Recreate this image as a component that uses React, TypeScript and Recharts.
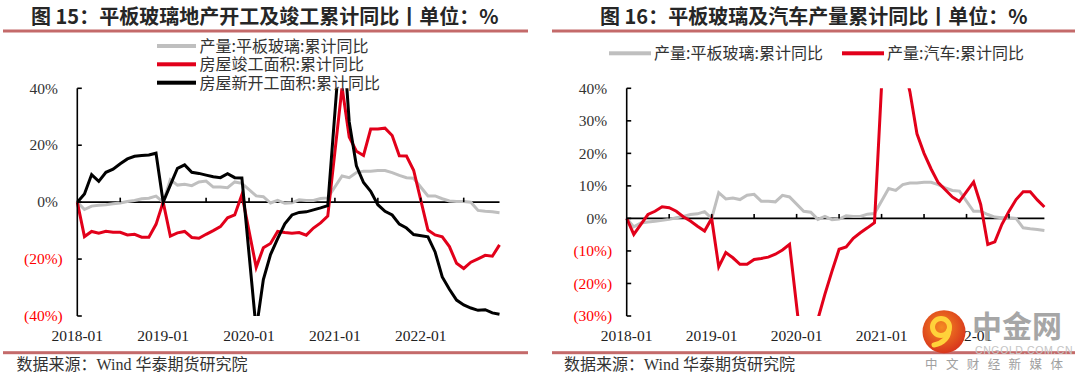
import React from 'react';
import { LineChart, Line, XAxis, YAxis, ReferenceLine, ReferenceDot } from 'recharts';

const months = [
  '2018-01','2018-02','2018-03','2018-04','2018-05','2018-06','2018-07','2018-08','2018-09','2018-10','2018-11','2018-12',
  '2019-01','2019-02','2019-03','2019-04','2019-05','2019-06','2019-07','2019-08','2019-09','2019-10','2019-11','2019-12',
  '2020-01','2020-02','2020-03','2020-04','2020-05','2020-06','2020-07','2020-08','2020-09','2020-10','2020-11','2020-12',
  '2021-01','2021-02','2021-03','2021-04','2021-05','2021-06','2021-07','2021-08','2021-09','2021-10','2021-11','2021-12',
  '2022-01','2022-02','2022-03','2022-04','2022-05','2022-06','2022-07','2022-08','2022-09','2022-10','2022-11','2022-12',
];

// 产量:平板玻璃:累计同比 (%)
const glassYoY: (number | null)[] = [
  0, -2.6, -1.4, -1.1, -0.9, -0.6, -0.3, 0.2, 0.6, 1.2, 1.4, 2.1,
  0, 7.9, 6.0, 6.3, 5.8, 7.1, 7.4, 5.3, 5.3, 5.1, 7.1, 6.6,
  null, 2.2, 1.9, -0.3, 0.6, -0.4, -0.2, 0.8, 0.6, 0.6, 1.3, 1.5,
  null, 9.2, 8.6, 10.4, 10.9, 10.9, 11.1, 11.1, 10.4, 9.4, 8.6, 8.4,
  null, 2.2, 2.2, 1.2, 0.4, 0.2, 0.2, 0.0, -2.9, -3.2, -3.4, -3.7,
];

// 房屋竣工面积:累计同比 (%)
const completionYoY: (number | null)[] = [
  0, -12.1, -10.3, -10.9, -10.2, -10.6, -10.6, -11.5, -11.3, -12.3, -12.3, -7.8,
  0, -11.9, -10.8, -10.3, -12.4, -12.7, -11.3, -10.0, -8.6, -5.5, -4.5, 2.6,
  null, -22.9, -16.0, -14.5, -10.3, -10.7, -10.9, -10.7, -11.6, -9.1, -7.3, -4.9,
  null, 40.4, 22.9, 17.9, 16.4, 25.7, 25.7, 26.0, 23.4, 16.3, 16.2, 11.2,
  null, -9.8, -11.5, -12.2, -15.6, -21.5, -23.3, -21.1, -19.9, -18.7, -19.0, -15.0,
];

// 房屋新开工面积:累计同比 (%)
const newStartYoY: (number | null)[] = [
  0, 2.9, 9.7, 7.3, 10.5, 11.6, 13.5, 15.2, 16.1, 16.4, 16.6, 17.2,
  0, 6.0, 11.9, 13.1, 10.5, 10.1, 9.5, 8.9, 8.6, 10.0, 8.6, 8.5,
  null, -44.9, -27.2, -18.4, -12.8, -7.6, -4.5, -3.6, -3.4, -2.7, -2.0, -1.2,
  null, 64.3, 28.2, 12.8, 6.9, 3.8, -0.9, -3.2, -4.5, -7.7, -9.1, -11.4,
  null, -12.2, -17.5, -26.3, -30.6, -34.4, -36.1, -37.2, -38.0, -37.8, -38.9, -39.4,
];

// 产量:汽车:累计同比 (%)
const autoYoY: (number | null)[] = [
  0, -4.9, -1.8, 1.2, 2.2, 3.6, 3.3, 2.2, 0.5, -0.8, -2.4, -3.9,
  0, -14.9, -10.5, -12.1, -14.1, -14.1, -12.6, -12.3, -11.9, -11.0, -9.7, -8.0,
  null, -45.8, -45.0, -31.0, -23.3, -16.2, -9.5, -8.8, -6.1, -4.4, -2.9, -1.3,
  null, 83.0, 65.0, 48.0, 39.0, 26.0, 20.0, 15.2, 11.0, 8.8, 6.6, 5.2,
  null, 11.2, 4.3, -8.0, -7.2, -1.8, 2.2, 5.8, 8.2, 8.2, 5.7, 3.5,
];

const halfYearMarks = ['2018-07','2019-01','2019-07','2020-01','2020-07','2021-01','2021-07','2022-01','2022-07'];
const leftYTicks = [40, 20, 0, -20, -40];
const rightYTicks = [40, 30, 20, 10, 0, -10, -20, -30];

const leftTitle = '图 15：平板玻璃地产开工及竣工累计同比丨单位：%';
const rightTitle = '图 16：平板玻璃及汽车产量累计同比丨单位：%';
const sourceText = '数据来源：Wind 华泰期货研究院';
const nameGlass = '产量:平板玻璃:累计同比';
const nameCompletion = '房屋竣工面积:累计同比';
const nameNewStart = '房屋新开工面积:累计同比';
const nameAuto = '产量:汽车:累计同比';

const leftData = months.map((m, i) => ({
  month: m,
  glass: glassYoY[i],
  completion: completionYoY[i],
  newStart: newStartYoY[i],
}));
const rightData = months.map((m, i) => ({ month: m, glass: glassYoY[i], auto: autoYoY[i] }));

const SERIF = "'Liberation Serif', 'Times New Roman', 'Noto Sans CJK SC', serif";
const CJK = "'Noto Sans CJK SC', sans-serif";
const GRAY = '#BFBFBF';
const RED = '#E2001A';
const BLACK = '#000000';
const RULE = '#C46A6A';

function YTick(props: any) {
  const { x, y, payload } = props;
  const v = payload.value as number;
  const neg = v < 0;
  return (
    <g>
      <line x1={x} y1={y} x2={x + 4.5} y2={y} stroke="#000" strokeWidth={1.6} />
      <text
        x={neg ? x - 14.5 : x - 19.5}
        y={y}
        dy={5.2}
        textAnchor="end"
        fontFamily={SERIF}
        fontSize={15.5}
        fill={neg ? '#FF0000' : '#333333'}
      >
        {neg ? `(${Math.abs(v)}%)` : `${v}%`}
      </text>
    </g>
  );
}

function XTick(props: any) {
  const { x, y, payload } = props;
  return (
    <text x={x} y={y} dy={25} textAnchor="middle" fontFamily={SERIF} fontSize={15.5} fill="#222">
      {payload.value}
    </text>
  );
}

function ZeroMark(props: any) {
  const { cx, cy } = props;
  return <line x1={cx} y1={cy} x2={cx} y2={cy - 4.5} stroke="#000" strokeWidth={1.6} />;
}

function Overlay() {
  return (
    <svg
      width={1080}
      height={382}
      style={{ position: 'absolute', left: 0, top: 0, pointerEvents: 'none' }}
    >
      {/* titles */}
      <text x={31} y={24.3} fontFamily={CJK} fontWeight={700} fontSize={20} fill="#262626">{leftTitle}</text>
      <text x={600} y={24.3} fontFamily={CJK} fontWeight={700} fontSize={20} fill="#262626">{rightTitle}</text>
      <rect x={3} y={29.5} width={525} height={3} fill={RULE} />
      <rect x={552} y={29.5} width={523} height={3} fill={RULE} />

      {/* left legend */}
      <rect x={157} y={44} width={39} height={4} fill={GRAY} />
      <text x={199.5} y={52.1} fontFamily={CJK} fontSize={16} fill="#333">{nameGlass}</text>
      <rect x={157} y={62.3} width={39} height={4} fill={RED} />
      <text x={199.5} y={70.4} fontFamily={CJK} fontSize={16} fill="#333">{nameCompletion}</text>
      <rect x={157} y={80.7} width={39} height={4} fill={BLACK} />
      <text x={199.5} y={88.8} fontFamily={CJK} fontSize={16} fill="#333">{nameNewStart}</text>

      {/* right legend */}
      <rect x={609} y={51.3} width={42} height={4} fill={GRAY} />
      <text x={654} y={59.4} fontFamily={CJK} fontSize={16} fill="#333">{nameGlass}</text>
      <rect x={842} y={51.3} width={42} height={4} fill={RED} />
      <text x={887} y={59.4} fontFamily={CJK} fontSize={16} fill="#333">{nameAuto}</text>

      {/* bottom rules & source */}
      <rect x={3} y={351.2} width={525} height={3} fill={RULE} />
      <rect x={552} y={351.2} width={523} height={3} fill={RULE} />
      <text x={16.5} y={370.4} fontFamily={SERIF} fontSize={16} fill="#333">{sourceText}</text>
      <text x={564} y={370.4} fontFamily={SERIF} fontSize={16} fill="#333">{sourceText}</text>

      {/* watermark */}
      <defs>
        <radialGradient id="wmg" cx="45%" cy="40%" r="60%">
          <stop offset="0%" stopColor="#F58A22" />
          <stop offset="100%" stopColor="#D8361C" />
        </radialGradient>
      </defs>
      <circle cx={944} cy={331.7} r={21.5} fill="url(#wmg)" />
      <circle cx={941} cy={327} r={8.5} fill="none" stroke="#FFD23A" strokeWidth={5} />
      <path d="M 949 330 Q 948 342 934 345" fill="none" stroke="#FFD23A" strokeWidth={5} strokeLinecap="round" />
      <text x={972} y={337} fontFamily={CJK} fontWeight={700} fontSize={30} fill="#A6A6A6">中金网</text>
      <text x={975} y={353.5} fontFamily="'Liberation Sans', sans-serif" fontSize={10.5} fill="#C4C4C4" letterSpacing={0.6}>CNGOLD.COM.CN</text>
      <text x={925} y={368.5} fontFamily={CJK} fontSize={12.5} fill="#A0A0A0" letterSpacing={8.4}>中文财经新媒体</text>
    </svg>
  );
}

export default function App() {
  return (
    <div
      style={{
        position: 'absolute',
        left: 0,
        top: 0,
        width: 1080,
        height: 382,
        background: '#fff',
        overflow: 'hidden',
      }}
    >
      <div style={{ position: 'absolute', left: 0, top: 0 }}>
        <LineChart width={540} height={382} data={leftData} margin={{ top: 88.3, right: 40.5, bottom: 36, left: 0 }}>
          <XAxis
            dataKey="month"
            interval={11}
            axisLine={false}
            tickLine={false}
            tickSize={0}
            tickMargin={0}
            height={30}
            tick={<XTick />}
          />
          <YAxis
            domain={[-40, 40]}
            ticks={leftYTicks}
            allowDataOverflow
            width={77.3}
            axisLine={{ stroke: '#000', strokeWidth: 1.6 }}
            tickLine={false}
            tickSize={0}
            tickMargin={0}
            tick={<YTick />}
          />
          <ReferenceLine y={0} stroke="#000" strokeWidth={1.6} />
          {halfYearMarks.map((m) => (
            <ReferenceDot key={m} x={m} y={0} r={0} shape={ZeroMark} />
          ))}
          <Line type="linear" dataKey="glass" name={nameGlass} stroke={GRAY} strokeWidth={3} dot={false} connectNulls isAnimationActive={false} />
          <Line type="linear" dataKey="completion" name={nameCompletion} stroke={RED} strokeWidth={3} dot={false} connectNulls isAnimationActive={false} />
          <Line type="linear" dataKey="newStart" name={nameNewStart} stroke={BLACK} strokeWidth={3} dot={false} connectNulls isAnimationActive={false} />
        </LineChart>
      </div>
      <div style={{ position: 'absolute', left: 540, top: 0 }}>
        <LineChart width={540} height={382} data={rightData} margin={{ top: 88.3, right: 35.6, bottom: 36, left: 0 }}>
          <XAxis
            dataKey="month"
            interval={11}
            axisLine={false}
            tickLine={false}
            tickSize={0}
            tickMargin={0}
            height={30}
            tick={<XTick />}
          />
          <YAxis
            domain={[-30, 40]}
            ticks={rightYTicks}
            allowDataOverflow
            width={86.7}
            axisLine={{ stroke: '#000', strokeWidth: 1.6 }}
            tickLine={false}
            tickSize={0}
            tickMargin={0}
            tick={<YTick />}
          />
          <ReferenceLine y={0} stroke="#000" strokeWidth={1.6} />
          {halfYearMarks.map((m) => (
            <ReferenceDot key={m} x={m} y={0} r={0} shape={ZeroMark} />
          ))}
          <Line type="linear" dataKey="glass" name={nameGlass} stroke={GRAY} strokeWidth={3} dot={false} connectNulls isAnimationActive={false} />
          <Line type="linear" dataKey="auto" name={nameAuto} stroke={RED} strokeWidth={3} dot={false} connectNulls isAnimationActive={false} />
        </LineChart>
      </div>
      <Overlay />
    </div>
  );
}
